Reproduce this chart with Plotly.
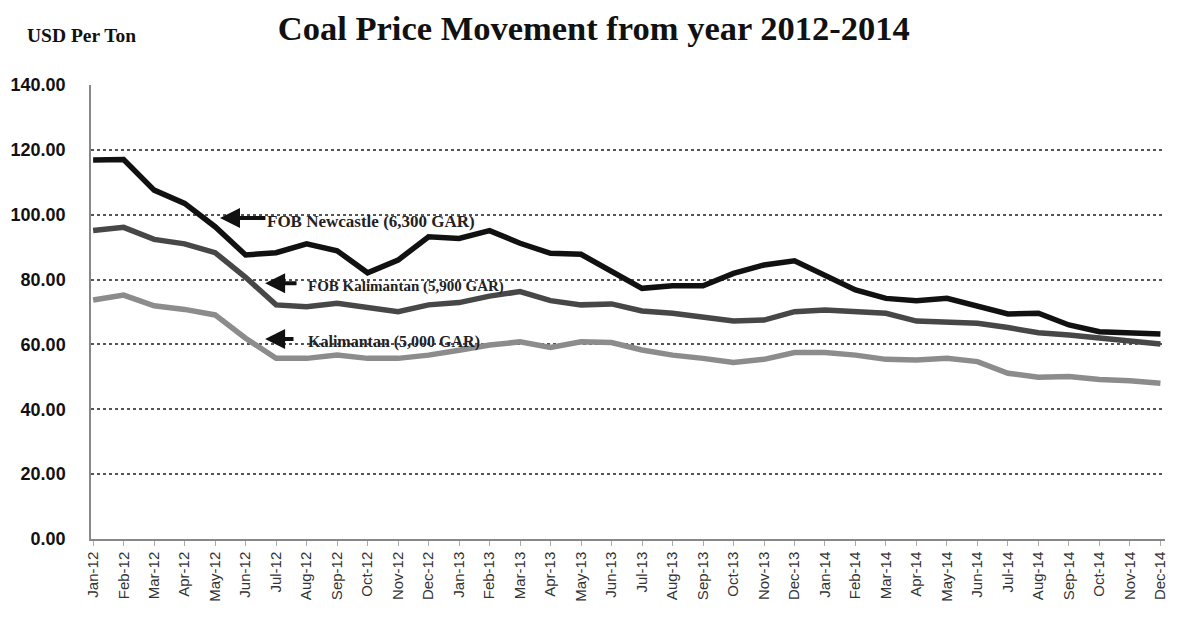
import plotly.graph_objects as go

months = ["Jan-12","Feb-12","Mar-12","Apr-12","May-12","Jun-12","Jul-12","Aug-12","Sep-12","Oct-12","Nov-12","Dec-12",
          "Jan-13","Feb-13","Mar-13","Apr-13","May-13","Jun-13","Jul-13","Aug-13","Sep-13","Oct-13","Nov-13","Dec-13",
          "Jan-14","Feb-14","Mar-14","Apr-14","May-14","Jun-14","Jul-14","Aug-14","Sep-14","Oct-14","Nov-14","Dec-14"]

newcastle_6300 = [116.9, 117.0, 107.6, 103.5, 96.3, 87.6, 88.3, 91.0, 88.9, 82.1, 86.0, 93.2,
                  92.7, 95.1, 91.2, 88.1, 87.8, 82.4, 77.3, 78.1, 78.1, 81.9, 84.5, 85.8,
                  81.4, 76.8, 74.2, 73.5, 74.2, 71.6, 69.4, 69.6, 66.0, 63.9, 63.4, 63.2]

fob_kalimantan_5900 = [95.1, 96.1, 92.4, 91.0, 88.3, 80.7, 72.2, 71.6, 72.7, 71.6, 70.1, 72.2,
                       72.9, 74.9, 76.3, 73.5, 72.2, 72.5, 70.3, 69.6, 68.6, 67.2, 67.5, 70.1,
                       70.6, 70.1, 69.6, 67.2, 67.0, 66.5, 65.2, 63.6, 62.9, 61.9, 61.1, 60.1]

kalimantan_5000 = [73.7, 75.2, 71.9, 70.8, 69.1, 61.9, 55.7, 55.7, 56.7, 55.7, 55.7, 56.7,
                   58.2, 59.8, 60.8, 59.1, 60.8, 60.6, 58.3, 56.7, 55.7, 54.4, 55.4, 57.5,
                   57.5, 56.7, 55.4, 55.2, 55.7, 54.7, 51.1, 49.9, 50.1, 49.2, 48.8, 48.0]

series_names = ["FOB Newcastle (6,300 GAR)", "FOB Kalimantan (5,900 GAR)", "Kalimantan (5,000 GAR)"]
y_ticks = [0, 20, 40, 60, 80, 100, 120, 140]

x_idx = list(range(len(months)))

fig = go.Figure()
styles = [("#111111", 5.5), ("#474747", 5.5), ("#8c8c8c", 5.5)]
for name, vals, (col, w) in zip(series_names, [newcastle_6300, fob_kalimantan_5900, kalimantan_5000], styles):
    fig.add_trace(go.Scatter(x=x_idx, y=vals, mode="lines", name=name,
                             line=dict(color=col, width=w, shape="linear")))

serif = "Liberation Serif, Times New Roman, serif"

# (label, arrow head x, y, arrow tail x, y, label x, label y, font size)
label_specs = [
    (series_names[0], 4.16, 99.0, 5.70, 99.0, 5.62, 97.8, 17),
    (series_names[1], 5.64, 78.9, 6.72, 78.9, 6.98, 78.0, 15),
    (series_names[2], 5.64, 61.7, 6.62, 61.7, 6.98, 60.7, 16),
]
for text, hx, hy, tx, ty, lx, ly, fs in label_specs:
    fig.add_annotation(x=hx, y=hy, ax=tx, ay=ty, xref="x", yref="y", axref="x", ayref="y",
                       text="", showarrow=True, arrowhead=2, arrowsize=1.0, arrowwidth=4,
                       arrowcolor="#111111")
    fig.add_annotation(x=lx, y=ly, xref="x", yref="y", text="<b>" + text + "</b>",
                       showarrow=False, xanchor="left", yanchor="middle",
                       font=dict(family=serif, size=fs, color="#222222"))

fig.add_annotation(text="<b>USD Per Ton</b>", xref="paper", yref="paper", x=-0.061, y=1.11,
                   xanchor="left", yanchor="middle", showarrow=False,
                   font=dict(family=serif, size=19.5, color="#111111"))

fig.update_layout(
    width=1177, height=623,
    paper_bgcolor="white", plot_bgcolor="white",
    margin=dict(l=91, r=12, t=85, b=84),
    showlegend=False,
    title=dict(text="<b>Coal Price Movement from year 2012-2014</b>", x=0.5045, xanchor="center",
               y=0.955, yanchor="middle", font=dict(family=serif, size=34.5, color="#111111")),
    xaxis=dict(range=[-0.07, 35.15], tickmode="array", tickvals=x_idx, ticktext=months,
               tickangle=-90, tickfont=dict(family="Liberation Sans, Arial, sans-serif", size=15, color="#333333"),
               showgrid=False, zeroline=False, showline=True, linecolor="#888888", linewidth=1.5,
               ticks="outside", ticklen=5, tickcolor="#aaaaaa", automargin=False),
    yaxis=dict(range=[0, 140], tickmode="array", tickvals=y_ticks,
               ticktext=[f"{v:.2f}" for v in y_ticks],
               tickfont=dict(family="Liberation Sans, Arial, sans-serif", size=18, color="#111111", weight="bold"),
               showgrid=True, gridcolor="#555555", griddash="dot", gridwidth=1.5,
               zeroline=False, showline=True, linecolor="#888888", linewidth=1.5,
               ticks="", ticklabelstandoff=20, automargin=False),
)

fig.write_html("out.html", config={"displayModeBar": False},
               post_script="document.body.style.margin='0';")
